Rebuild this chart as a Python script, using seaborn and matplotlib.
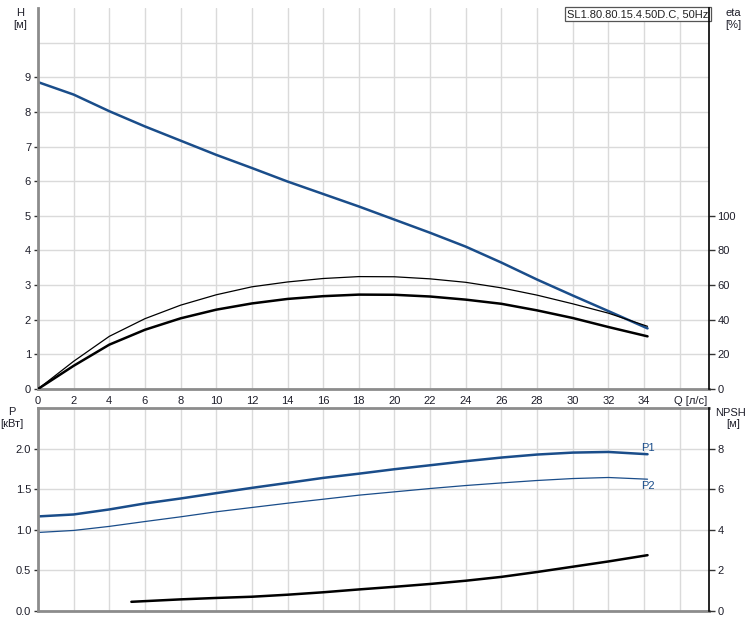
import matplotlib
matplotlib.use("Agg")
import matplotlib.pyplot as plt
import seaborn as sns

# Values
q_h = [0, 2, 4, 6, 8, 10, 12, 14, 16, 18, 20, 22, 24, 26, 28, 30, 32, 34.2]
head = [8.86, 8.50, 8.02, 7.58, 7.17, 6.76, 6.38, 5.99, 5.63, 5.27, 4.89, 4.51, 4.11, 3.65, 3.16, 2.70, 2.25, 1.75]

q_eta = [0, 2, 4, 6, 8, 10, 12, 14, 16, 18, 20, 22, 24, 26, 28, 30, 32, 34.2]
eta_thin = [0, 16, 30.4, 40.6, 48.4, 54.4, 59, 61.8, 63.8, 64.9, 64.8, 63.6, 61.6, 58.4, 54.2, 49.2, 43.8, 36.2]
eta_thick = [0, 13.4, 25.6, 34.2, 40.8, 45.8, 49.4, 52, 53.6, 54.5, 54.4, 53.4, 51.6, 49.2, 45.4, 41, 35.8, 30.4]

q_p = [0, 2, 4, 6, 8, 10, 12, 14, 16, 18, 20, 22, 24, 26, 28, 30, 32, 34.2]
p1 = [1.163, 1.187, 1.249, 1.323, 1.384, 1.45, 1.515, 1.576, 1.638, 1.69, 1.745, 1.794, 1.844, 1.889, 1.926, 1.95, 1.958, 1.93]
p2 = [0.965, 0.99, 1.04, 1.10, 1.158, 1.22, 1.273, 1.326, 1.375, 1.425, 1.466, 1.507, 1.544, 1.576, 1.606, 1.63, 1.643, 1.622]

q_npsh = [5.24, 8, 10, 12, 14, 16, 18, 20, 22, 24, 26, 28, 30, 32, 34.2]
npsh = [0.44, 0.56, 0.63, 0.69, 0.79, 0.91, 1.05, 1.18, 1.32, 1.48, 1.67, 1.91, 2.17, 2.43, 2.74]

x_ticks = list(range(0, 37, 2))
x_labels = [str(v) for v in range(0, 35, 2)] + [""]
h_ticks = list(range(0, 10))
eta_ticks = [0, 20, 40, 60, 80, 100]
p_ticks = [0.0, 0.5, 1.0, 1.5, 2.0]
npsh_ticks = [0, 2, 4, 6, 8]

title = "SL1.80.80.15.4.50D.C, 50Hz"

sns.set_style("white")
plt.rcParams['font.family'] = ['Liberation Sans', 'DejaVu Sans']
FS = 8
plt.rcParams['font.size'] = FS

BLUE = '#1a4d8a'
GRID = '#dadada'
SPINE = '#8c8c8c'
TXT = '#1e1e2a'
XMAX = 37.65

fig = plt.figure(figsize=(7.51, 6.23), dpi=100)

# Top: head + efficiency
ax1 = fig.add_axes([0.0506, 0.3756, 0.8935, 0.6116])
ax1.set_xlim(0, XMAX)
ax1.set_ylim(0, 11)
ax1.set_xticks(x_ticks)
ax1.set_xticklabels(x_labels)
ax1.set_yticks(h_ticks)
ax1.set_yticks([10], minor=True)
ax1.grid(True, which='both', color=GRID, lw=1.0)
ax1.set_axisbelow(True)
ax1.tick_params(axis='both', which='major', direction='out', length=3, width=1,
                color='#333333', labelcolor=TXT, labelsize=FS, pad=2)
ax1.tick_params(axis='y', which='minor', length=0)
for s in ['left', 'bottom']:
    ax1.spines[s].set_color(SPINE)
    ax1.spines[s].set_linewidth(2)
ax1.spines['top'].set_visible(False)
ax1.spines['right'].set_visible(False)

sns.lineplot(x=q_h, y=head, ax=ax1, color=BLUE, lw=1.8, estimator=None, sort=False)

ax1r = ax1.twinx()
ax1r.set_ylim(0, 220)
ax1r.set_yticks(eta_ticks)
ax1r.grid(False)
ax1r.tick_params(axis='y', direction='out', length=4, width=1, color='#333333',
                 labelcolor=TXT, labelsize=FS, pad=2)
for s in ['left', 'bottom', 'top']:
    ax1r.spines[s].set_visible(False)
ax1r.spines['right'].set_color('black')
ax1r.spines['right'].set_linewidth(1.2)
sns.lineplot(x=q_eta, y=eta_thin, ax=ax1r, color='black', lw=0.9, estimator=None, sort=False)
sns.lineplot(x=q_eta, y=eta_thick, ax=ax1r, color='black', lw=1.8, estimator=None, sort=False)
ax1r.set_xlim(0, XMAX)

ax1.text(36.6, -0.2, "Q [л/с]", ha='center', va='top', color=TXT, fontsize=FS)
ax1.text(0.999, 0.997, title, transform=ax1.transAxes, ha='right', va='top',
         color='#222222', fontsize=FS, zorder=10,
         bbox=dict(boxstyle='square,pad=0.2', fc='white', ec='#555555', lw=0.9))

# Bottom: power + NPSH
ax2 = fig.add_axes([0.0506, 0.0197, 0.8935, 0.3254])
ax2.set_xlim(0, XMAX)
ax2.set_ylim(0, 2.5)
ax2.set_xticks(x_ticks)
ax2.set_xticklabels([])
ax2.set_yticks(p_ticks)
ax2.set_yticklabels([f"{v:.1f}" for v in p_ticks])
ax2.grid(True, color=GRID, lw=1.0)
ax2.set_axisbelow(True)
ax2.tick_params(axis='x', length=0)
ax2.tick_params(axis='y', direction='out', length=3, width=1, color='#333333',
                labelcolor=TXT, labelsize=FS, pad=2)
for s in ['left', 'bottom', 'top']:
    ax2.spines[s].set_color(SPINE)
    ax2.spines[s].set_linewidth(2)
ax2.spines['right'].set_visible(False)

sns.lineplot(x=q_p, y=p1, ax=ax2, color=BLUE, lw=1.8, estimator=None, sort=False)
sns.lineplot(x=q_p, y=p2, ax=ax2, color=BLUE, lw=0.9, estimator=None, sort=False)
ax2.text(34.2, 2.01, "P1", color=BLUE, ha='center', va='center', fontsize=FS)
ax2.text(34.2, 1.54, "P2", color=BLUE, ha='center', va='center', fontsize=FS)

ax2r = ax2.twinx()
ax2r.set_ylim(0, 10)
ax2r.set_yticks(npsh_ticks)
ax2r.grid(False)
ax2r.tick_params(axis='y', direction='out', length=4, width=1, color='#333333',
                 labelcolor=TXT, labelsize=FS, pad=2)
for s in ['left', 'bottom', 'top']:
    ax2r.spines[s].set_visible(False)
ax2r.spines['right'].set_color('black')
ax2r.spines['right'].set_linewidth(1.2)
sns.lineplot(x=q_npsh, y=npsh, ax=ax2r, color='black', lw=1.8, estimator=None, sort=False)
ax2r.set_xlim(0, XMAX)

for a in [ax1, ax1r, ax2, ax2r]:
    a.set_xlabel("")
    a.set_ylabel("")

# Axis unit labels
W, H = 751, 623
def ftext(px, py, s, ha='center'):
    fig.text(px / W, 1 - py / H, s, ha=ha, va='center', color=TXT, fontsize=FS)

ftext(20, 13, "H")
ftext(20, 25, "[м]")
ftext(733, 13, "eta")
ftext(733, 25, "[%]")
ftext(12, 412, "P")
ftext(12, 424, "[кВт]")
ftext(731, 413, "NPSH")
ftext(733, 424, "[м]")

fig.savefig("out.png", dpi=100)
